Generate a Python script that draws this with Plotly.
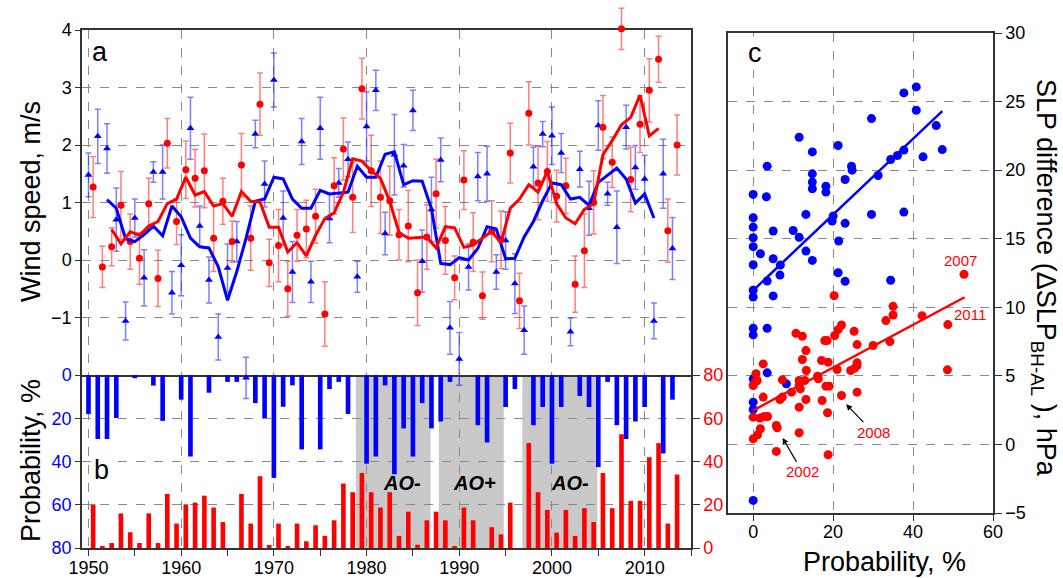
import plotly.graph_objects as go

# ---------------- data ----------------
years = list(range(1950, 2014))

blue_wind = [1.48, 2.15, 1.94, 0.70, -1.06, 0.73, -0.31, 1.53, 1.53, -0.57,
             -0.09, 2.29, 0.59, -0.35, -1.34, -0.14, 0.32, -2.05, 2.19, 1.32,
             3.13, 0.73, -0.21, 2.06, -0.38, 2.29, 0.72, 1.34, 1.75, -0.29,
             2.32, 2.95, 0.46, 1.83, 1.64, 2.60, -0.02, 0.88, 1.74, -1.18,
             -1.72, -0.12, 1.45, 1.50, -0.21, 0.34, -0.41, -1.22, 1.62, 2.19,
             2.16, 1.86, -1.25, 1.58, 0.90, 2.34, 1.15, 0.57, 2.31, 1.61,
             1.41, -1.06, 1.50, 0.20]
blue_err = [0.38, 0.47, 0.43, 0.55, 0.33, 0.33, 0.49, 0.18, 0.47, 0.37,
            0.53, 0.54, 0.35, 0.40, 0.40, 0.42, 0.35, 0.36, 0.24, 0.40,
            0.47, 0.47, 0.53, 0.40, 0.36, 0.54, 0.42, 0.25, 0.30, 0.27,
            0.60, 0.35, 0.37, 0.70, 0.37, 0.35, 0.54, 0.56, 0.38, 0.46,
            0.46, 0.40, 0.42, 0.48, 0.30, 0.50, 0.52, 0.42, 0.34, 0.22,
            0.50, 0.34, 0.24, 0.31, 0.47, 0.43, 0.20, 0.63, 0.38, 0.38,
            0.41, 0.31, 0.60, 0.54]

red_wind = [1.27, -0.12, 0.23, 0.95, 0.32, 0.03, 0.98, -0.32, 2.03, 0.67,
            1.57, 1.42, 1.55, 0.38, 1.02, 0.32, 1.65, 0.38, 2.71, -0.05,
            0.25, -0.50, 0.43, 0.54, 0.76, -0.94, 1.29, 1.93, 1.09, 2.98,
            1.55, 1.09, 1.03, 0.44, 0.59, -0.57, 0.40, 1.15, 0.34, -0.31,
            1.39, 0.31, -0.62, 0.50, 0.35, 1.86, -0.71, 2.55, 1.34, 1.54,
            1.11, 1.29, -0.42, 0.16, 1.00, 2.31, 1.70, 4.02, 1.40, 2.36,
            2.95, 3.49, 0.51, 2.00]
red_err = [0.53, 0.36, 0.33, 0.59, 0.48, 0.45, 0.44, 0.49, 0.43, 0.40,
           0.50, 0.50, 0.64, 0.58, 0.40, 0.36, 0.55, 0.56, 0.54, 0.41,
           0.63, 0.48, 0.45, 0.50, 0.47, 0.56, 0.49, 0.54, 0.61, 0.53,
           0.62, 0.63, 0.60, 0.44, 0.62, 0.57, 0.56, 0.60, 0.59, 0.38,
           0.51, 0.51, 0.41, 0.53, 0.50, 0.52, 0.48, 0.55, 0.64, 0.52,
           0.45, 0.48, 0.49, 0.64, 0.55, 0.55, 0.44, 0.36, 0.56, 0.49,
           0.55, 0.40, 0.55, 0.52]

ma_years = list(range(1952, 2012))
blue_ma = [1.05, 0.90, 0.37, 0.32, 0.44, 0.59, 0.42, 0.94, 0.75, 0.38,
           0.23, 0.21, -0.12, -0.70, -0.20, 0.38, 1.02, 1.06, 1.44, 1.41,
           1.06, 0.90, 0.90, 1.21, 1.15, 1.17, 1.18, 1.63, 1.44, 1.44,
           1.84, 1.88, 1.31, 1.38, 1.37, 0.89, -0.06, -0.08, 0.04, 0.00,
           0.20, 0.58, 0.54, 0.02, 0.03, 0.40, 0.67, 1.03, 1.34, 1.31,
           1.06, 1.09, 0.95, 1.35, 1.47, 1.60, 1.41, 0.99, 1.15, 0.73]
red_ma = [0.53, 0.28, 0.49, 0.43, 0.59, 0.67, 0.98, 1.06, 1.44, 1.13,
          1.19, 0.94, 0.98, 0.76, 1.19, 1.02, 1.01, 0.57, 0.57, 0.14,
          0.30, 0.07, 0.43, 0.72, 0.82, 1.18, 1.76, 1.72, 1.55, 1.42,
          1.02, 0.48, 0.38, 0.39, 0.40, 0.21, 0.58, 0.56, 0.22, 0.26,
          0.38, 0.50, 0.30, 0.90, 1.06, 1.31, 1.18, 1.54, 0.98, 0.73,
          0.63, 0.88, 0.98, 1.83, 2.08, 2.35, 2.48, 2.87, 2.16, 2.29]

blue_prob = [18.1, 29.6, 29.6, 19.9, 0, 1.5, 0, 4.9, 21.2, 0,
             11.4, 37.7, 0, 8.2, 0, 3.2, 3.2, 0, 13.0, 19.9,
             47.6, 14.7, 4.8, 34.4, 0, 34.4, 6.5, 3.2, 18.0, 0,
             41.0, 37.7, 4.8, 45.9, 24.7, 37.7, 13.0, 24.7, 21.5, 3.2,
             0, 0, 23.2, 31.2, 0, 14.8, 6.5, 0, 23.2, 14.8,
             41.0, 14.8, 0, 9.7, 14.8, 42.6, 3.2, 23.2, 29.6, 21.5,
             14.8, 0, 36.3, 11.4]
red_prob = [20.2, 0.6, 2.3, 16.0, 7.3, 2.3, 16.0, 2.3, 25.0, 11.3,
            20.2, 21.0, 24.2, 18.7, 12.0, 0, 25.0, 11.3, 33.2, 1.4,
            11.3, 0.6, 11.3, 3.1, 10.5, 5.6, 12.8, 29.8, 25.8, 34.7,
            25.8, 18.7, 25.8, 5.6, 16.8, 1.5, 12.8, 16.8, 12.8, 0.6,
            18.7, 12.8, 0, 9.6, 6.3, 21.0, 0, 48.5, 25.8, 17.6,
            7.1, 17.6, 5.6, 18.4, 12.0, 34.7, 18.4, 52.6, 21.8, 21.8,
            42.0, 48.5, 11.3, 34.0]

ao_start = [1978.85, 1987.8, 1996.8]
ao_end = [1986.9, 1994.8, 2004.9]
ao_label = ["AO-", "AO+", "AO-"]
ao_center = [1983.8, 1991.6, 2001.9]

blue_c_prob = [0, 3.3, 3.5, 0, 0, 0, 0, 1.8, 0, 5, 5, 6.8, 6.7, 3.5, 0, 0, 5, 10, 11.5, 11.5,
               13.2, 13.2, 14.8, 14.8, 14.8, 14.8, 14.8, 18.2, 18.2, 19.75, 20, 21.25, 21.4, 21.25,
               23, 23, 23, 24.6, 24.75, 29.6, 29.6, 31.25, 34.4, 34.4, 36.1, 37.7, 37.7, 37.7,
               40.8, 40.8, 42.5, 45.8, 47.3, 0, 0, 3.5, 3.5, 8.3, 0, 0, 0, 0]
blue_c_slp = [18.23, 18.06, 20.29, 16.53, 15.85, 15.07, 14.42, 13.9, 13.1, 15.56, 13.54, 13.08,
              12.35, 11.92, 11.24, 10.75, 10.83, 15.6, 15.1, 22.4, 16.77, 14.1, 21.33, 19.73,
              19.13, 18.64, 13.42, 18.83, 18.4, 16.29, 16.65, 21.8, 14.83, 12.52, 19.32, 16.12,
              11.89, 20.29, 20.0, 23.76, 16.77, 19.61, 11.97, 20.78, 21.07, 21.46, 25.63, 16.94,
              26.07, 24.37, 20.97, 23.25, 21.5, 8.47, 7.99, 8.47, 5.22, 4.42, 4.78, 3.08, 2.55, -4.08]
red_c_prob = [20.25, 35, 35, 33.2, 42.25, 48.7, 48.6, 34.2, 30, 25.25, 26, 22.1, 21.25, 20.4,
              18.5, 17.9, 10.7, 12.3, 13.2, 12.3, 2.5, 17.1, 18.75, 13.3, 16.1, 16.3, 21, 24.4,
              25.4, 26, 26, 0.7, 1, 0, 0.7, 7.3, 11.5, 11.5, 12.9, 11.8, 9.6, 7.3, 6.7, 2.5, 13.2,
              17.25, 18.2, 19, 22.1, 26, 11.5, 18.6, 0, 1.7, 2.75, 3.6, 1.8, 5.8, 6, 11.5, 1.1,
              0, 5.8, 18.75, 52.75]
red_c_slp = [10.85, 10.07, 9.44, 9.03, 9.39, 8.74, 5.44, 7.5, 7.21, 8.25, 7.28, 8.71, 8.37, 7.94,
             7.57, 7.57, 8.1, 7.89, 6.84, 6.19, 5.87, 6.12, 6.0, 5.39, 4.98, 4.78, 5.46, 5.39,
             5.56, 5.75, 5.95, 5.15, 4.66, 4.3, 4.59, 4.71, 4.66, 4.3, 4.66, 4.05, 3.81, 3.45,
             3.28, 3.45, 3.28, 3.2, 4.25, 4.25, 3.57, 3.81, 2.72, 2.31, 1.99, 1.92, 2.04, 2.04,
             1.14, 1.38, 1.21, 0.85, 0.7, 0.41, -0.51, -0.75, 12.4]

blue_fit_prob = [0.6, 47.3]
blue_fit_slp = [11.4, 24.3]
red_fit_prob = [0.0, 52.9]
red_fit_slp = [2.48, 10.73]

year_labels = ["2007", "2011", "2008", "2002"]
label_prob = [51.8, 54.3, 30.0, 12.3]
label_slp = [13.4, 9.45, 0.9, -2.0]
arrow_prob = [None, None, 22.9, 7.1]
arrow_slp = [None, None, 3.03, 0.6]

# ---------------- layout helpers ----------------
W, H = 1063, 578
def fx(p):
    return p / W
def fy(p):
    return 1 - p / H

FONT = "Arial, Liberation Sans, sans-serif"
BLUE = "#0000ff"
RED = "#ff0000"
GRID = "#8a8a8a"
LINE = "#333333"

# panel a geometry (pixels) and an unclipped overlay with the same scale
A_TOP, A_BOT = 30, 375
A_MIN, A_MAX = -2, 4
px_per_unit = (A_BOT - A_TOP) / (A_MAX - A_MIN)
OV_TOP, OV_BOT = 0, 400
ov_range = [A_MIN - (OV_BOT - A_BOT) / px_per_unit, A_MAX + (A_TOP - OV_TOP) / px_per_unit]

fig = go.Figure()

red_x = [y + 0.5 for y in years]
red_ma_x = [y + 0.5 for y in ma_years]

# empty trace so the framed panel-a subplot (grid, ticks, frame) is created
fig.add_trace(go.Scatter(x=[], y=[], mode="markers", xaxis="x", yaxis="y", hoverinfo="skip"))

# panel a (drawn on the same-scale overlay so error bars may leave the frame)
fig.add_trace(go.Scatter(x=years, y=blue_wind, mode="markers", xaxis="x4", yaxis="y5",
                         marker=dict(symbol="triangle-up", size=7, color=BLUE),
                         error_y=dict(type="data", array=blue_err, color="rgba(40,40,255,0.6)",
                                      thickness=1.5, width=3),
                         cliponaxis=False, hoverinfo="skip"))
fig.add_trace(go.Scatter(x=red_x, y=red_wind, mode="markers", xaxis="x4", yaxis="y5",
                         marker=dict(symbol="circle", size=7, color=RED),
                         error_y=dict(type="data", array=red_err, color="rgba(255,40,40,0.6)",
                                      thickness=1.5, width=3),
                         cliponaxis=False, hoverinfo="skip"))
fig.add_trace(go.Scatter(x=ma_years, y=blue_ma, mode="lines", xaxis="x4", yaxis="y5",
                         line=dict(color=BLUE, width=3), hoverinfo="skip"))
fig.add_trace(go.Scatter(x=red_ma_x, y=red_ma, mode="lines", xaxis="x4", yaxis="y5",
                         line=dict(color=RED, width=3), hoverinfo="skip"))

# panel b
fig.add_trace(go.Bar(x=years, y=blue_prob, width=0.5, marker=dict(color=BLUE, line=dict(width=0)),
                     xaxis="x2", yaxis="y2", hoverinfo="skip"))
fig.add_trace(go.Bar(x=red_x, y=red_prob, width=0.5, marker=dict(color=RED, line=dict(width=0)),
                     xaxis="x2", yaxis="y3", hoverinfo="skip"))

# panel c
fig.add_trace(go.Scatter(x=blue_c_prob, y=blue_c_slp, mode="markers", xaxis="x3", yaxis="y4",
                         marker=dict(size=9, color=BLUE), hoverinfo="skip"))
fig.add_trace(go.Scatter(x=red_c_prob, y=red_c_slp, mode="markers", xaxis="x3", yaxis="y4",
                         marker=dict(size=9, color=RED), hoverinfo="skip"))
fig.add_trace(go.Scatter(x=blue_fit_prob, y=blue_fit_slp, mode="lines", xaxis="x3", yaxis="y4",
                         line=dict(color=BLUE, width=2.5), hoverinfo="skip"))
fig.add_trace(go.Scatter(x=red_fit_prob, y=red_fit_slp, mode="lines", xaxis="x3", yaxis="y4",
                         line=dict(color=RED, width=2.5), hoverinfo="skip"))

# gray AO periods
for x0, x1 in zip(ao_start, ao_end):
    fig.add_shape(type="rect", xref="x2", yref="y2 domain", x0=x0, x1=x1, y0=0, y1=1,
                  fillcolor="#c9c9c9", line=dict(width=0), layer="below")

ann = []
for lab, xc in zip(ao_label, ao_center):
    ann.append(dict(x=xc, y=50, xref="x2", yref="y2", text="<b><i>" + lab + "</i></b>",
                    showarrow=False, xanchor="center", yanchor="middle",
                    font=dict(family=FONT, size=20, color="black")))

for t, px_, sy, ax_, ay_ in zip(year_labels, label_prob, label_slp, arrow_prob, arrow_slp):
    if ax_ is None:
        ann.append(dict(x=px_, y=sy, xref="x3", yref="y4", text=t, showarrow=False,
                        xanchor="center", yanchor="middle",
                        font=dict(family=FONT, size=15, color=RED)))
    else:
        ann.append(dict(x=ax_, y=ay_, xref="x3", yref="y4", ax=px_, ay=sy, axref="x3", ayref="y4",
                        text=t, showarrow=True, arrowhead=2, arrowsize=1, arrowwidth=1.2,
                        arrowcolor="black", standoff=2,
                        font=dict(family=FONT, size=15, color=RED)))

def paper_text(x, y, text, size=27, angle=0, bg=None):
    d = dict(x=fx(x), y=fy(y), xref="paper", yref="paper", text=text, showarrow=False,
             xanchor="center", yanchor="middle", textangle=angle,
             font=dict(family=FONT, size=size, color="black"))
    if bg:
        d["bgcolor"] = bg
    return d

# panel letters (white boxes cut the grid)
ann.append(paper_text(100, 52, "a", bg="white"))
ann.append(paper_text(101, 470, "b", bg="white"))
ann.append(paper_text(755, 53, "c", bg="white"))

# axis titles
ann.append(paper_text(31, 202, "Wind speed, m/s", angle=-90))
ann.append(paper_text(31, 461, "Probability, %", angle=-90))
ann.append(paper_text(884, 562, "Probability, %"))
ann.append(paper_text(1044, 278, "SLP difference (ΔSLP<sub>BH-AL</sub> ), hPa", angle=90))

common = dict(showgrid=True, gridcolor=GRID, griddash="dash", gridwidth=1, zeroline=False,
              showline=True, linecolor=LINE, linewidth=1.5, automargin=False)

XA = [fx(82), fx(691)]
fig.update_layout(
    width=W, height=H, autosize=False,
    margin=dict(l=0, r=0, t=0, b=0, autoexpand=False),
    paper_bgcolor="white", plot_bgcolor="rgba(0,0,0,0)",
    showlegend=False, barmode="overlay", hovermode=False,
    font=dict(family=FONT, size=18, color="black"),
    annotations=ann,
    xaxis=dict(domain=XA, range=[1949.3, 2015], anchor="y", tickmode="linear", tick0=1950,
               dtick=10, showticklabels=False, ticks="", mirror=True, **common),
    yaxis=dict(domain=[fy(A_BOT), fy(A_TOP)], range=[A_MIN, A_MAX], anchor="x",
               tickvals=[-1, 0, 1, 2, 3, 4],
               ticks="outside", ticklen=5, tickcolor=LINE, mirror=True,
               tickfont=dict(size=18, color="black"), **common),
    xaxis2=dict(domain=XA, range=[1949.3, 2015], anchor="y2", tickmode="linear", tick0=1950,
                dtick=10, ticks="outside", ticklen=6, tickcolor=LINE, ticklabelstandoff=-3,
                minor=dict(tick0=1950, dtick=5, ticks="outside", ticklen=6, tickcolor=LINE,
                           showgrid=False),
                tickfont=dict(size=18, color="black"), **common),
    yaxis2=dict(domain=[fy(548), fy(375)], range=[80, 0], anchor="x2",
                tickvals=[0, 20, 40, 60, 80], ticks="outside", ticklen=5, tickcolor=LINE,
                tickfont=dict(size=18, color=BLUE), **common),
    yaxis3=dict(range=[0, 80], anchor="x2", overlaying="y2", side="right",
                tickvals=[0, 20, 40, 60, 80], ticks="outside", ticklen=7, tickcolor=LINE,
                showgrid=False, zeroline=False, showline=True, linecolor=LINE, linewidth=1.5,
                automargin=False, tickfont=dict(size=18, color=RED)),
    xaxis3=dict(domain=[fx(728), fx(993)], range=[-6.3, 60], anchor="y4",
                tickvals=[0, 20, 40, 60], ticks="outside", ticklen=6, tickcolor=LINE, mirror=True,
                ticklabelstandoff=-4,
                tickfont=dict(size=18, color="black"), **common),
    yaxis4=dict(domain=[fy(513), fy(33)], range=[-5, 30], anchor="x3", side="right",
                tickvals=[-5, 0, 5, 10, 15, 20, 25, 30], ticks="outside", ticklen=7,
                tickcolor=LINE, mirror=True, tickfont=dict(size=18, color="black"), **common),
    xaxis4=dict(domain=XA, range=[1949.3, 2015], anchor="y5", visible=False,
                automargin=False, fixedrange=True),
    yaxis5=dict(domain=[fy(OV_BOT), fy(OV_TOP)], range=ov_range, anchor="x4", visible=False,
                automargin=False, fixedrange=True),
)

fig.write_html("out.html", config={"displayModeBar": False},
               post_script="document.body.style.margin='0px';document.body.style.overflow='hidden';")
